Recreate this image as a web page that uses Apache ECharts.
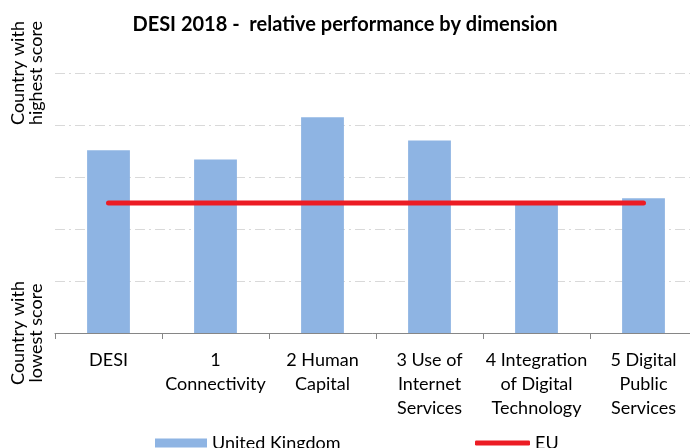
<!DOCTYPE html>
<html>
<head>
<meta charset="utf-8">
<script src="https://cdn.jsdelivr.net/npm/echarts@6/dist/echarts.min.js"></script>
<style>
  html, body { margin: 0; padding: 0; background: #fff; }
  #chart { width: 690px; height: 448px; }
</style>
</head>
<body>
<div id="chart"></div>
<script>
// Dimensions of the Digital Economy and Society Index
const categories = [
  'DESI',
  '1\nConnectivity',
  '2 Human\nCapital',
  '3 Use of\nInternet\nServices',
  '4 Integration\nof Digital\nTechnology',
  '5 Digital\nPublic\nServices'
];
// Relative score: 0 = country with lowest score, 100 = country with highest score
const ukValues = [70.3, 66.7, 83.0, 74.0, 49.2, 51.8];
const euValues = [50, 50, 50, 50, 50, 50];
const seriesNames = ['United Kingdom', 'EU'];
const yMin = 0, yMax = 100, yStep = 20;

const font = 'Lato, "Open Sans", sans-serif';
const chart = echarts.init(document.getElementById('chart'), null, { renderer: 'canvas' });

chart.setOption({
  animation: false,
  backgroundColor: '#ffffff',
  title: {
    text: 'DESI 2018 -  relative performance by dimension',
    left: 'center',
    top: 10,
    textStyle: { fontFamily: font, fontSize: 20, fontWeight: 'bold', color: '#000' }
  },
  grid: { left: 55, top: 73, width: 642, height: 260, outerBoundsMode: 'none' },
  legend: [
    {
      data: [seriesNames[0]],
      left: 150, top: 429,
      icon: 'rect', itemWidth: 52, itemHeight: 9, itemGap: 7,
      textStyle: { fontFamily: font, fontSize: 18, color: '#000' }
    },
    {
      data: [seriesNames[1]],
      left: 470, top: 429,
      icon: 'roundRect', itemWidth: 55, itemHeight: 5, itemGap: 4,
      textStyle: { fontFamily: font, fontSize: 18, color: '#000' }
    }
  ],
  xAxis: {
    type: 'category',
    data: categories,
    boundaryGap: true,
    axisLine: { lineStyle: { color: '#868686', width: 1 } },
    axisTick: { show: true, length: 6, lineStyle: { color: '#868686' } },
    axisLabel: {
      interval: 0,
      margin: 15,
      fontFamily: font, fontSize: 18, color: '#000',
      lineHeight: 24
    }
  },
  yAxis: {
    type: 'value',
    min: yMin, max: yMax, interval: yStep,
    axisLine: { show: false },
    axisTick: { show: false },
    splitLine: { lineStyle: { color: '#d9d9d9', width: 1, type: [10, 4, 2, 4] } },
    axisLabel: {
      rotate: 90,
      margin: 10,
      fontFamily: font, fontSize: 18, color: '#000',
      lineHeight: 18,
      formatter: function (v) {
        if (v === yMin) return 'Country with\nlowest score';
        if (v === yMax) return 'Country with\nhighest score';
        return '';
      }
    }
  },
  series: [
    {
      name: seriesNames[0],
      type: 'bar',
      data: ukValues,
      barWidth: '40%',
      itemStyle: { color: '#8eb4e3' },
      z: 2
    },
    {
      name: seriesNames[1],
      type: 'line',
      data: euValues,
      symbol: 'none',
      itemStyle: { color: '#ec1c24' },
      lineStyle: { color: '#ec1c24', width: 5, cap: 'round' },
      z: 3
    }
  ]
});
</script>
</body>
</html>
